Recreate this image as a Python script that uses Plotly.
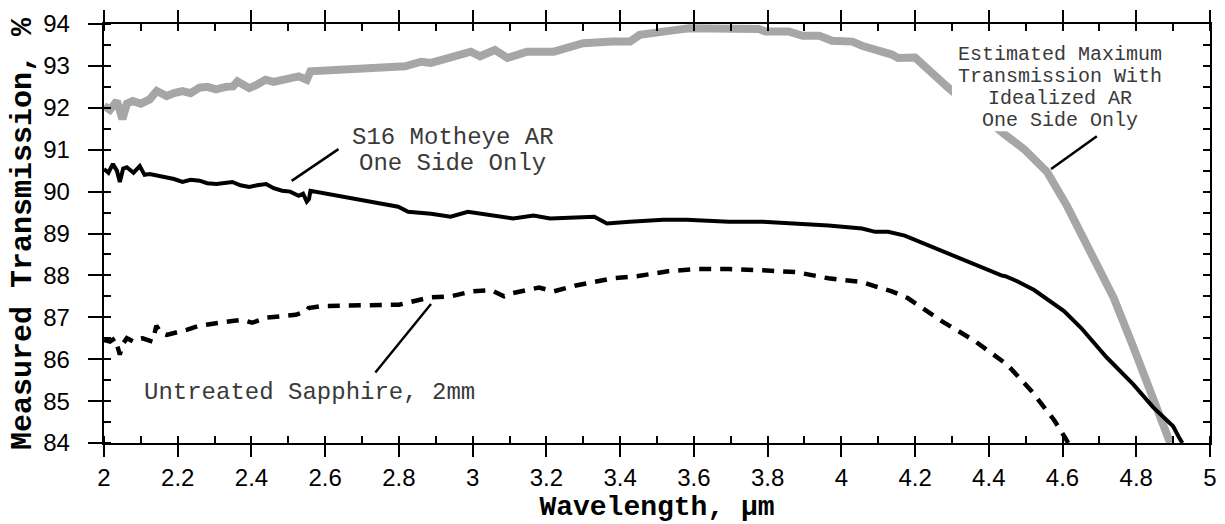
import plotly.graph_objects as go

# ---- data ----
est_x = [2.0, 2.016, 2.035, 2.05, 2.062, 2.078, 2.1, 2.124, 2.143, 2.17, 2.19, 2.213, 2.235, 2.259,
         2.28, 2.304, 2.33, 2.35, 2.362, 2.38, 2.394, 2.415, 2.438, 2.46, 2.48, 2.505, 2.528, 2.55,
         2.56, 2.817, 2.86, 2.887, 2.933, 2.995, 3.02, 3.06, 3.094, 3.148, 3.22, 3.30, 3.38, 3.427,
         3.453, 3.507, 3.553, 3.588, 3.75, 3.776, 3.795, 3.857, 3.895, 3.94, 3.975, 4.03, 4.056, 4.1,
         4.137, 4.154, 4.2, 4.29, 4.36, 4.442, 4.496, 4.558, 4.612, 4.675, 4.739, 4.793, 4.847, 4.892]
est_y = [92.05, 91.95, 92.16, 91.73, 92.1, 92.16, 92.1, 92.2, 92.4, 92.28, 92.35, 92.4, 92.35, 92.48,
         92.5, 92.44, 92.5, 92.51, 92.63, 92.55, 92.47, 92.55, 92.67, 92.62, 92.67, 92.7, 92.75, 92.67,
         92.87, 92.99, 93.1, 93.07, 93.19, 93.34, 93.23, 93.38, 93.19, 93.34, 93.34, 93.54, 93.58, 93.58,
         93.74, 93.78, 93.86, 93.9, 93.9, 93.88, 93.82, 93.82, 93.72, 93.72, 93.6, 93.58, 93.48, 93.38,
         93.27, 93.19, 93.2, 92.48, 91.95, 91.37, 91.01, 90.47, 89.66, 88.6, 87.46, 86.27, 85.09, 84.0]

s16_x = [2.0, 2.012, 2.024, 2.035, 2.043, 2.052, 2.062, 2.08, 2.097, 2.11, 2.124, 2.145, 2.17, 2.19,
         2.213, 2.235, 2.259, 2.28, 2.305, 2.325, 2.348, 2.37, 2.394, 2.415, 2.44, 2.46, 2.483, 2.505,
         2.528, 2.54, 2.55, 2.556, 2.56, 2.798, 2.825, 2.887, 2.94, 2.987, 3.05, 3.11, 3.165, 3.21,
         3.33, 3.364, 3.426, 3.517, 3.58, 3.652, 3.695, 3.787, 3.876, 3.965, 4.056, 4.092, 4.127, 4.172,
         4.434, 4.445, 4.477, 4.523, 4.604, 4.65, 4.72, 4.792, 4.846, 4.882, 4.9, 4.915, 4.925]
s16_y = [90.54, 90.45, 90.66, 90.5, 90.23, 90.55, 90.58, 90.45, 90.61, 90.4, 90.42, 90.38, 90.35, 90.3,
         90.23, 90.28, 90.26, 90.2, 90.18, 90.2, 90.23, 90.15, 90.11, 90.15, 90.18, 90.08, 90.02, 90.0,
         89.9, 89.95, 89.76, 89.82, 90.02, 89.64, 89.52, 89.47, 89.4, 89.52, 89.43, 89.36, 89.43, 89.36,
         89.4, 89.24, 89.28, 89.33, 89.33, 89.31, 89.28, 89.28, 89.24, 89.19, 89.12, 89.04, 89.04, 88.95,
         88.0, 87.98, 87.86, 87.65, 87.15, 86.75, 86.04, 85.4, 84.85, 84.54, 84.4, 84.15, 84.0]

unt_x = [2.0, 2.016, 2.03, 2.043, 2.05, 2.062, 2.08, 2.092, 2.105, 2.12, 2.132, 2.142, 2.155, 2.17,
         2.197, 2.224, 2.259, 2.28, 2.305, 2.348, 2.375, 2.402, 2.44, 2.483, 2.52, 2.55, 2.555, 2.59,
         2.80, 2.887, 2.94, 3.0, 3.05, 3.085, 3.11, 3.18, 3.22, 3.28, 3.34, 3.38, 3.445, 3.53, 3.607,
         3.695, 3.787, 3.876, 3.965, 4.056, 4.092, 4.137, 4.18, 4.272, 4.361, 4.45, 4.515, 4.577, 4.609, 4.615]
unt_y = [86.46, 86.42, 86.5, 86.11, 86.35, 86.5, 86.42, 86.48, 86.5, 86.45, 86.42, 86.8, 86.62, 86.58,
         86.63, 86.7, 86.8, 86.82, 86.87, 86.91, 86.94, 86.87, 86.99, 87.03, 87.06, 87.15, 87.22, 87.27,
         87.3, 87.48, 87.5, 87.62, 87.65, 87.5, 87.58, 87.71, 87.62, 87.76, 87.86, 87.93, 87.98, 88.1, 88.15,
         88.15, 88.12, 88.08, 87.93, 87.84, 87.74, 87.62, 87.46, 86.91, 86.44, 85.87, 85.25, 84.55, 84.1, 84.0]

x_range = [2, 5]
y_range = [84, 94]

MONO = "Liberation Mono"
SANS = "Liberation Sans"
TXT = "#3a3a3a"
NB = "\u00a0"

fig = go.Figure()
fig.add_trace(go.Scatter(x=est_x, y=est_y, mode="lines", line=dict(color="#a6a6a6", width=8),
                         name="Estimated", showlegend=False))
fig.add_trace(go.Scatter(x=s16_x, y=s16_y, mode="lines", line=dict(color="black", width=4),
                         name="S16", showlegend=False))
fig.add_trace(go.Scatter(x=unt_x, y=unt_y, mode="lines",
                         line=dict(color="black", width=4.5, dash="12px,9px"),
                         name="Untreated", showlegend=False))
# right-side axis carrier (same data range, invisible)
fig.add_trace(go.Scatter(x=[x_range[0]], y=[y_range[0]], yaxis="y2", mode="markers",
                         marker=dict(opacity=0), showlegend=False, hoverinfo="skip"))

fig.update_layout(
    width=1225, height=524,
    margin=dict(l=104, r=8, t=24, b=78),
    plot_bgcolor="white", paper_bgcolor="white",
    xaxis=dict(range=x_range, dtick=0.2, tick0=2, ticks="outside", ticklen=12, tickwidth=2,
               tickcolor="black", showline=True, linewidth=2, linecolor="black", mirror="ticks",
               showgrid=False, zeroline=False,
               minor=dict(dtick=0.1, ticks="inside", ticklen=7, tickwidth=2, tickcolor="black", showgrid=False),
               tickfont=dict(family=SANS, size=24, color="black"),
               title=dict(text="Wavelength, μm", font=dict(family=MONO, size=28, color="black", weight="bold"),
                          standoff=6)),
    yaxis=dict(range=y_range, dtick=1, ticks="outside", ticklen=14, tickwidth=2, tickcolor="black",
               showline=True, linewidth=2, linecolor="black", mirror=True,
               showgrid=False, zeroline=False, ticksuffix=NB + NB,
               minor=dict(dtick=0.5, ticks="inside", ticklen=7, tickwidth=2, tickcolor="black", showgrid=False),
               tickfont=dict(family=SANS, size=24, color="black")),
    yaxis2=dict(range=y_range, overlaying="y", side="right", dtick=1, ticks="inside", ticklen=7,
                tickwidth=2, tickcolor="black", showticklabels=False, showgrid=False, zeroline=False,
                showline=False,
                minor=dict(dtick=0.5, ticks="inside", ticklen=7, tickwidth=2, tickcolor="black", showgrid=False)),
)

# y-axis title as rotated text
fig.add_annotation(xref="paper", yref="paper", x=-0.0737, y=0.5, text="Measured Transmission, %",
                   textangle=-90, showarrow=False, xanchor="center", yanchor="middle",
                   font=dict(family=MONO, size=30, color="black", weight="bold"))

# white block behind the "Estimated ..." label
fig.add_shape(type="rect", xref="x", yref="y", x0=4.300, x1=4.870, y0=91.44, y1=93.57,
              fillcolor="white", line=dict(width=0), layer="above")

# pointer lines
for (x0, y0, x1, y1) in [(2.509, 90.256, 2.636, 91.014),
                         (2.736, 85.683, 2.887, 87.318),
                         (4.569, 90.540, 4.693, 91.322)]:
    fig.add_shape(type="line", xref="x", yref="y", x0=x0, y0=y0, x1=x1, y1=y1,
                  line=dict(color="black", width=2.5), layer="above")

def label(text, x, y, size, xanchor="center"):
    fig.add_annotation(x=x, y=y, xref="x", yref="y", text=text, showarrow=False,
                       xanchor=xanchor, yanchor="middle",
                       font=dict(family=MONO, size=size, color=TXT))

# S16 label (two lines)
label("S16 Motheye AR", 2.946, 91.30, 24)
label("One Side Only", 2.946, 90.66, 24)
# Untreated label
label("Untreated Sapphire, 2mm", 2.102, 85.20, 24, xanchor="left")
# Estimated label (four lines)
est_lines = ["Estimated Maximum", "Transmission With", "Idealized AR", "One Side Only"]
for i, t in enumerate(est_lines):
    label(t, 4.592, 93.27 - i * 0.528, 20)

fig.write_html("out.html")
